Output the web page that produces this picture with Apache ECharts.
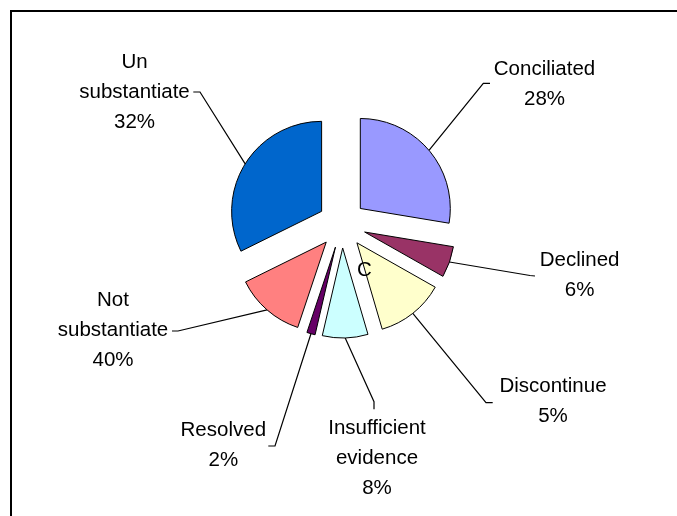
<!DOCTYPE html>
<html><head><meta charset="utf-8">
<script src="https://cdn.jsdelivr.net/npm/echarts@6/dist/echarts.min.js"></script>
<style>html,body{margin:0;padding:0;background:#fff}#c{width:677px;height:516px}</style>
</head><body><div id="c"></div>
<script>
// ---- data ----
const categories = ['Conciliated','Declined','Discontinue','Insufficient evidence','Resolved','Not substantiate','Un substantiate'];
const sliceValues = [27.7, 5.6, 12.3, 8.2, 1.5, 12.6, 32.4];
const labelPercents = ['28%','6%','5%','8%','2%','40%','32%'];
const strayText = 'C';

// ---- styles / layout ----
const sliceColors = ['#9999FF','#993366','#FFFFCC','#CCFFFF','#660066','#FF8080','#0066CC'];
const PIE_CENTER = [342, 224];
const PIE_R = 90;
const EXPLODE = 24;
const labelCenters = [[544.5,84.3],[579.6,275.7],[553,401.7],[377,458.3],[223.3,445.3],[113,330.7],[134.5,92.3]];
const leaderBends = [
  [[483.3,83.3],[490,83.3]],
  [[530,275.5],[535,276]],
  [[486,402.7],[492.7,402.7]],
  [[374,401.7],[374,409.3]],
  [[275,446],[268.3,446]],
  [[178,331],[172,331]],
  [[200,92],[193.3,92]]
];
const FONT = 'Liberation Sans, Arial, sans-serif';
const FS = 20.5;

function labelText(i){ return categories[i].replace(' ', '\n') + '\n' + labelPercents[i]; }

const graphics = [
  {type:'rect', shape:{x:11, y:11, width:700, height:600}, style:{fill:'none', stroke:'#000', lineWidth:2}, silent:true},
  {type:'text', x:364.3, y:270, z:100, style:{text:strayText, font: FS+'px '+FONT, fill:'#000', align:'center', verticalAlign:'middle'}}
];
categories.forEach((c, i) => {
  graphics.push({type:'text', x:labelCenters[i][0], y:labelCenters[i][1], z:100,
    style:{text:labelText(i), font: FS+'px '+FONT, fill:'#000', align:'center', verticalAlign:'middle', lineHeight:30}});
});

const chart = echarts.init(document.getElementById('c'), null, {renderer:'canvas'});
chart.setOption({
  animation: false,
  backgroundColor: '#fff',
  graphic: graphics,
  series: [{
    type: 'pie',
    center: PIE_CENTER,
    radius: PIE_R,
    startAngle: 90,
    clockwise: true,
    selectedMode: 'multiple',
    selectedOffset: EXPLODE,
    avoidLabelOverlap: false,
    itemStyle: {borderColor:'#000', borderWidth:1},
    emphasis: {disabled: true},
    label: {
      show: true,
      position: 'outside',
      color: 'rgba(0,0,0,0)',
      fontFamily: FONT,
      fontSize: FS,
      formatter: function(p){ return labelText(p.dataIndex); }
    },
    labelLine: {show: true, length: 10, length2: 10, lineStyle:{color:'#000', width:1.2}},
    labelLayout: function(p){
      const i = p.dataIndex;
      const res = {};
      const pts = p.labelLinePoints;
      if (pts) {
        // the guide line is translated with the exploded slice; compensate the bends
        const ux = (pts[0][0] - PIE_CENTER[0]) / PIE_R, uy = (pts[0][1] - PIE_CENTER[1]) / PIE_R;
        const ox = ux * EXPLODE, oy = uy * EXPLODE;
        res.labelLinePoints = [pts[0],
          [leaderBends[i][0][0] - ox, leaderBends[i][0][1] - oy],
          [leaderBends[i][1][0] - ox, leaderBends[i][1][1] - oy]];
      }
      return res;
    },
    data: categories.map((c, i) => ({name: c, value: sliceValues[i], selected: true, itemStyle: {color: sliceColors[i]}}))
  }]
});
</script></body></html>
